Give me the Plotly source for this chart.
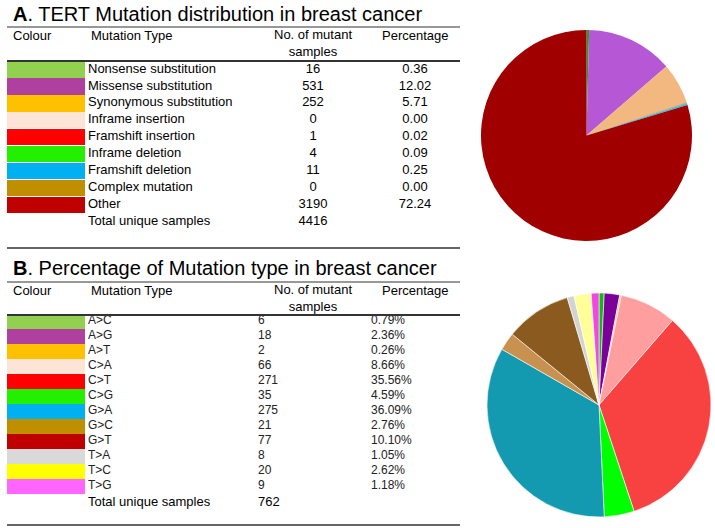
import plotly.graph_objects as go

# ---- data: table A (TERT mutation distribution)
types_a = ["Nonsense substitution", "Missense substitution", "Synonymous substitution",
           "Inframe insertion", "Framshift insertion", "Inframe deletion",
           "Framshift deletion", "Complex mutation", "Other"]
counts_a = [16, 531, 252, 0, 1, 4, 11, 0, 3190]
pct_a = ["0.36", "12.02", "5.71", "0.00", "0.02", "0.09", "0.25", "0.00", "72.24"]
total_a = 4416
swatch_a = ["#92D050", "#B040A0", "#FFC000", "#FCE4D6", "#FF0000",
            "#22F000", "#00B0F0", "#BF8F00", "#C00000"]
pie_colors_a = ["#22A022", "#B657D6", "#F2B880", "#FCE4D6", "#E04040",
                "#30C030", "#4AB4E8", "#BF8F00", "#A00000"]

# ---- data: table B (mutation type percentages)
types_b = ["A>C", "A>G", "A>T", "C>A", "C>T", "C>G", "G>A", "G>C", "G>T", "T>A", "T>C", "T>G"]
counts_b = [6, 18, 2, 66, 271, 35, 275, 21, 77, 8, 20, 9]
pct_b = ["0.79%", "2.36%", "0.26%", "8.66%", "35.56%", "4.59%",
         "36.09%", "2.76%", "10.10%", "1.05%", "2.62%", "1.18%"]
total_b = 762
swatch_b = ["#92D050", "#B040A0", "#FFC000", "#FCE4D6", "#FF0000", "#22F000",
            "#00B0F0", "#BF8F00", "#C00000", "#D9D9D9", "#FFFF00", "#FF66FF"]
pie_colors_b = ["#14B814", "#7A0099", "#F2B880", "#FF9E9E", "#F84242", "#00FF00",
                "#1399B0", "#C8914F", "#8B5A1E", "#D3D3D3", "#FFFF99", "#F048E0"]

W, H = 715, 528
FONT = "Arial, Liberation Sans, sans-serif"

fig = go.Figure()

# layout of the two tables (pixel coordinates on a hidden axis)
row0_a, pitch_a = 69.3, 16.95
row0_b, pitch_b = 321.3, 15.0
ya = [row0_a + i * pitch_a for i in range(len(types_a))]
yb = [row0_b + i * pitch_b for i in range(len(types_b))]
ya_total = row0_a + len(types_a) * pitch_a
yb_total = row0_b + len(types_b) * pitch_b + 1.5

# colour swatches as horizontal bars
for ys, cols, pitch in [(ya, swatch_a, pitch_a), (yb, swatch_b, pitch_b)]:
    fig.add_trace(go.Bar(
        y=ys, x=[78] * len(ys), base=7, orientation="h",
        width=pitch - 0.3, marker=dict(color=cols, line=dict(width=0)),
        hoverinfo="skip", showlegend=False))

def text_trace(x, y, txt, size, pos, color="#000"):
    fig.add_trace(go.Scatter(
        x=x, y=y, text=txt, mode="text", textposition=pos,
        textfont=dict(family=FONT, size=size, color=color),
        hoverinfo="skip", showlegend=False))

# table A body
text_trace([88] * len(ya) + [88], ya + [ya_total], types_a + ["Total unique samples"], 13, "middle right")
text_trace([313] * len(ya) + [313], ya + [ya_total], [str(c) for c in counts_a] + [str(total_a)], 13, "middle center")
text_trace([415] * len(ya), ya, pct_a, 13, "middle center")

# table B body
text_trace([88] * len(yb), yb, types_b, 12, "middle right", "#222")
text_trace([88], [yb_total], ["Total unique samples"], 13, "middle right")
text_trace([258] * len(yb), yb, [str(c) for c in counts_b], 12, "middle right", "#222")
text_trace([258], [yb_total], [str(total_b)], 13, "middle right")
text_trace([371] * len(yb), yb, pct_b, 12, "middle right", "#222")

# pies
fig.add_trace(go.Pie(
    values=counts_a, labels=types_a, sort=False, direction="clockwise", rotation=0,
    marker=dict(colors=pie_colors_a, line=dict(width=0)), textinfo="none",
    domain=dict(x=[481 / W, 692 / W], y=[1 - 241 / H, 1 - 30 / H]), showlegend=False))
fig.add_trace(go.Pie(
    values=counts_b, labels=types_b, sort=False, direction="clockwise", rotation=0,
    marker=dict(colors=pie_colors_b, line=dict(width=0.6, color="white")), textinfo="none",
    domain=dict(x=[487 / W, 711 / W], y=[1 - 517 / H, 1 - 293 / H]), showlegend=False))

# titles and headers
ann = []
for y0, label in [(14, "<b>A</b>. TERT Mutation distribution in breast cancer"),
                  (268, "<b>B</b>. Percentage of Mutation type in breast cancer")]:
    ann.append(dict(x=11, y=y0, text=label, xanchor="left", yanchor="middle",
                    font=dict(family=FONT, size=20, color="#000")))
for yh in [35, 290]:
    ann += [
        dict(x=11, y=yh, text="Colour", xanchor="left", yanchor="middle"),
        dict(x=89, y=yh, text="Mutation Type", xanchor="left", yanchor="middle"),
        dict(x=313, y=yh + 8, text="No. of mutant<br>samples", xanchor="center", yanchor="middle"),
        dict(x=415, y=yh, text="Percentage", xanchor="center", yanchor="middle"),
    ]
for a in ann:
    a.setdefault("font", dict(family=FONT, size=13, color="#000"))
    a.update(xref="x", yref="y", showarrow=False)

shapes = []
for yl, wdt in [(27, 1.2), (61, 2), (248, 1.5), (282, 1.2), (315, 2), (525, 1.5)]:
    shapes.append(dict(type="line", xref="x", yref="y", x0=7, x1=460, y0=yl, y1=yl,
                       line=dict(color="#333", width=wdt)))

fig.update_layout(
    width=W, height=H, margin=dict(l=0, r=0, t=0, b=0),
    paper_bgcolor="white", plot_bgcolor="white",
    xaxis=dict(range=[0, W], domain=[0, 1], visible=False, fixedrange=True),
    yaxis=dict(range=[H, 0], domain=[0, 1], visible=False, fixedrange=True),
    annotations=ann, shapes=shapes, bargap=0, showlegend=False,
)

fig.write_html("out.html", config={"displayModeBar": False},
               post_script="document.body.style.margin='0';")
